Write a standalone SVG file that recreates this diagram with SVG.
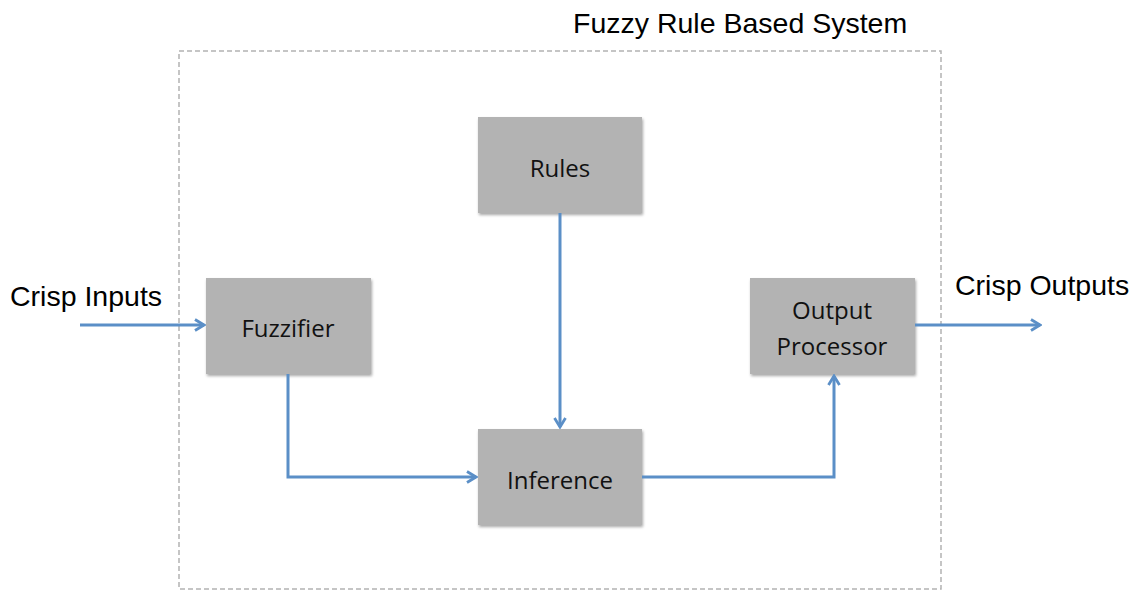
<svg xmlns="http://www.w3.org/2000/svg" width="1134" height="594" viewBox="0 0 1134 594">
  <defs>
    <style>
      .frame { fill: none; stroke: #b3b3b3; stroke-width: 1.5; stroke-dasharray: 5 3; }
      .box { fill: #b3b3b3; filter: url(#shadow); }
      .lbl { font-family: "Open Sans", "Noto Sans", sans-serif; font-size: 24px; fill: #111; text-anchor: middle; }
      .ext { font-family: "Liberation Sans", Arial, sans-serif; font-size: 28.5px; fill: #000; }
      .wire { fill: none; stroke: #5b8fc7; stroke-width: 3; marker-end: url(#chev); }
    </style>
    <filter id="shadow" x="-10%" y="-10%" width="125%" height="130%">
      <feGaussianBlur in="SourceAlpha" stdDeviation="1.5"/>
      <feOffset dx="1" dy="2" result="b"/>
      <feComponentTransfer><feFuncA type="linear" slope="0.35"/></feComponentTransfer>
      <feMerge><feMergeNode/><feMergeNode in="SourceGraphic"/></feMerge>
    </filter>
    <!-- open chevron arrowhead -->
    <marker id="chev" viewBox="0 0 14 14" refX="12" refY="7" markerWidth="14" markerHeight="14" markerUnits="userSpaceOnUse" orient="auto">
      <polyline points="3,1.5 12,7 3,12.5" fill="none" stroke="#5b8fc7" stroke-width="2.8" stroke-linejoin="miter"/>
    </marker>
  </defs>

  <rect width="1134" height="594" fill="#fff"/>

  <!-- system boundary -->
  <g id="system">
    <rect class="frame" x="179" y="51" width="762" height="538"/>
    <text class="ext" x="573" y="33">Fuzzy Rule Based System</text>
  </g>

  <g id="crisp-inputs"><text class="ext" x="10" y="306">Crisp Inputs</text></g>
  <g id="crisp-outputs"><text class="ext" x="955" y="295">Crisp Outputs</text></g>

  <g id="rules">
    <rect class="box" x="478" y="117" width="164" height="96"/>
    <text class="lbl" x="560" y="177">Rules</text>
  </g>
  <g id="fuzzifier">
    <rect class="box" x="206" y="278" width="165" height="96"/>
    <text class="lbl" x="288" y="337">Fuzzifier</text>
  </g>
  <g id="inference">
    <rect class="box" x="478" y="429" width="164" height="96"/>
    <text class="lbl" x="560" y="489">Inference</text>
  </g>
  <g id="output-processor">
    <rect class="box" x="750" y="278" width="165" height="96"/>
    <text class="lbl" x="832" y="319">Output</text>
    <text class="lbl" x="832" y="355">Processor</text>
  </g>

  <g id="connectors">
    <path class="wire" d="M80 325 H204"/>
    <path class="wire" d="M288 374 V477 H476"/>
    <path class="wire" d="M560 213 V427"/>
    <path class="wire" d="M642 477 H834 V376"/>
    <path class="wire" d="M915 325 H1040"/>
  </g>
</svg>
